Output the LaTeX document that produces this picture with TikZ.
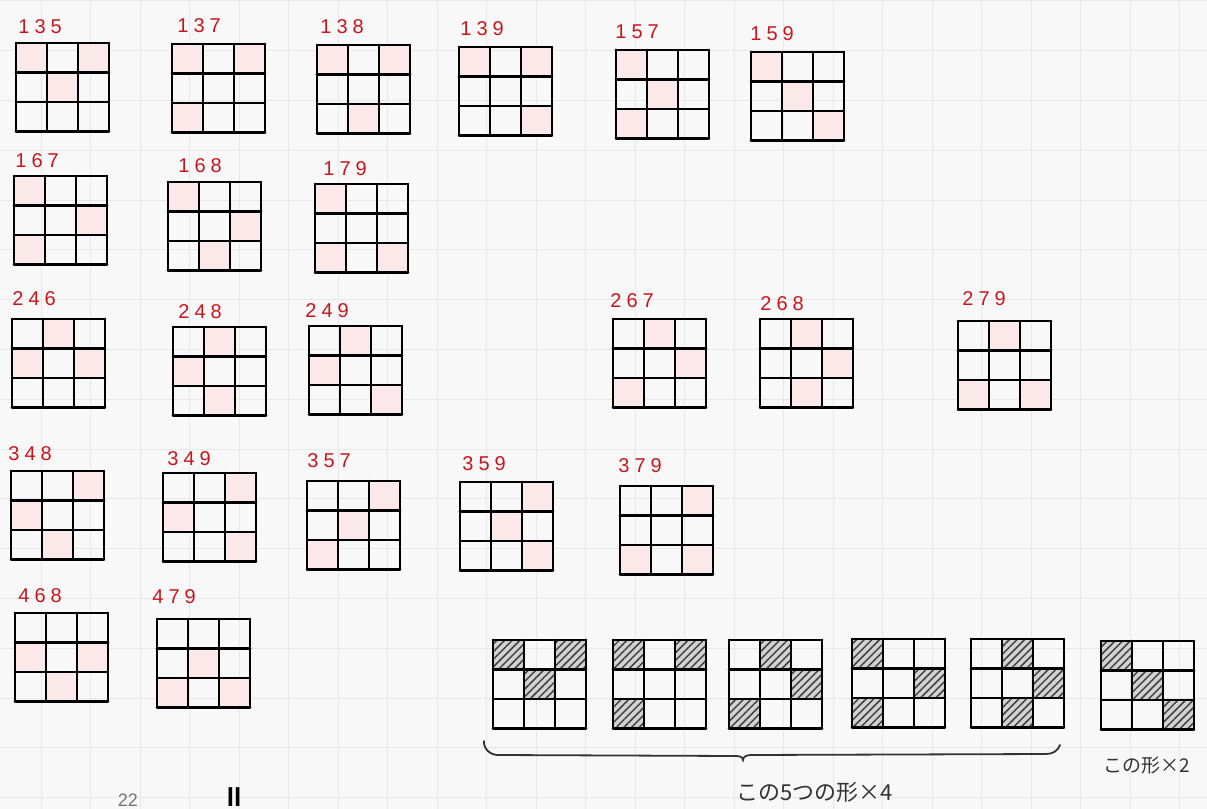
\documentclass[tikz,border=0pt]{standalone}
\usepackage{fontspec}
\setmainfont{Liberation Sans}
\newfontfamily\jpfont{Noto Sans CJK JP}
\usetikzlibrary{patterns.meta}
\definecolor{paperbg}{HTML}{F8F8F8}
\definecolor{paperline}{HTML}{E8E8E8}
\definecolor{markred}{HTML}{C8161E}
\definecolor{cellpink}{HTML}{FBE8E8}
\tikzset{
  gridline/.style ={line width=1.3pt,line cap=round,line join=round},
  pinkcell/.style ={fill=cellpink},
  hatchcell/.style={preaction={fill=gray!35},pattern={Lines[angle=45,distance=2.7pt,line width=0.75pt]},pattern color=black!75},
  tag/.style      ={anchor=base west,text=markred,inner sep=0pt,font=\addfontfeature{LetterSpace=25}\fontsize{10}{12}\selectfont},
  note/.style     ={text=black!80,inner sep=0pt,font=\jpfont\fontsize{11}{13}\selectfont},
  paper/.style    ={draw=paperline,line width=0.5pt},
  brace/.style    ={line width=0.9pt,draw=black!80,line cap=round}
}
\newcommand{\board}[4]{%
  \coordinate (#1) at #2;
  \begin{scope}[shift={(#1)}]
    \foreach \c in {#3}{
      \pgfmathtruncatemacro{\bcol}{mod(\c-1,3)}
      \pgfmathtruncatemacro{\brow}{div(\c-1,3)}
      \fill[#4] (\bcol*31,\brow*29.4) rectangle ++(31,29.4);
    }
    \foreach \i in {0,...,3}{
      \draw[gridline] (\i*31,0) -- (\i*31,88.2);
      \draw[gridline] (0,\i*29.4) -- (93,\i*29.4);
    }
  \end{scope}}

\begin{document}
\begin{tikzpicture}[x=0.5pt,y=-0.5pt]
    \clip (0,0) rectangle (1207,809);
    \fill[paperbg] (0,0) rectangle (1207,809);
    \foreach \k in {0,...,24}
      \draw[paper] (-8.2+49.5*\k,0) -- (-8.2+49.5*\k,809);
    \foreach \k in {0,...,16}
      \draw[paper] (0,0.9+49.8*\k) -- (1207,0.9+49.8*\k);

    \board{b135}{(16,43)}{1,3,5}{pinkcell}
    \board{b137}{(172,44)}{1,3,7}{pinkcell}
    \board{b138}{(317,45)}{1,3,8}{pinkcell}
    \board{b139}{(459,47)}{1,3,9}{pinkcell}
    \board{b157}{(616,50)}{1,5,7}{pinkcell}
    \board{b159}{(751,52)}{1,5,9}{pinkcell}
    \board{b167}{(14,176)}{1,6,7}{pinkcell}
    \board{b168}{(168,182)}{1,6,8}{pinkcell}
    \board{b179}{(315,184)}{1,7,9}{pinkcell}
    \board{b246}{(12,319)}{2,4,6}{pinkcell}
    \board{b248}{(173,327)}{2,4,8}{pinkcell}
    \board{b249}{(309,326)}{2,4,9}{pinkcell}
    \board{b267}{(613,319)}{2,6,7}{pinkcell}
    \board{b268}{(760,319)}{2,6,8}{pinkcell}
    \board{b279}{(958,321)}{2,7,9}{pinkcell}
    \board{b348}{(11,471)}{3,4,8}{pinkcell}
    \board{b349}{(163,473)}{3,4,9}{pinkcell}
    \board{b357}{(307,481)}{3,5,7}{pinkcell}
    \board{b359}{(460,482)}{3,5,9}{pinkcell}
    \board{b379}{(620,486)}{3,7,9}{pinkcell}
    \board{b468}{(15,613)}{4,6,8}{pinkcell}
    \board{b479}{(157,619)}{5,7,9}{pinkcell}

    \board{h1}{(493,640)}{1,3,5}{hatchcell}
    \board{h2}{(613,640)}{1,3,7}{hatchcell}
    \board{h3}{(729,640)}{2,6,7}{hatchcell}
    \board{h4}{(852,639)}{1,6,7}{hatchcell}
    \board{h5}{(971,639)}{2,6,8}{hatchcell}
    \board{h6}{(1101,641)}{1,5,9}{hatchcell}

    \node[tag] (l135) at (18,33)   {135};
    \node[tag] (l137) at (177,32)  {137};
    \node[tag] (l138) at (320,33)  {138};
    \node[tag] (l139) at (460,35)  {139};
    \node[tag] (l157) at (615,38)  {157};
    \node[tag] (l159) at (750,40)  {159};
    \node[tag] (l167) at (15,167)  {167};
    \node[tag] (l168) at (178,172) {168};
    \node[tag] (l179) at (323,175) {179};
    \node[tag] (l246) at (12,305)  {246};
    \node[tag] (l248) at (178,318) {248};
    \node[tag] (l249) at (305,317) {249};
    \node[tag] (l267) at (610,307) {267};
    \node[tag] (l268) at (760,310) {268};
    \node[tag] (l279) at (962,305) {279};
    \node[tag] (l348) at (8,460)   {348};
    \node[tag] (l349) at (167,465) {349};
    \node[tag] (l357) at (307,467) {357};
    \node[tag] (l359) at (462,470) {359};
    \node[tag] (l379) at (618,472) {379};
    \node[tag] (l468) at (18,602)  {468};
    \node[tag] (l479) at (152,603) {479};

    \draw[brace] (484,741) to[out=-95,in=180] (498,755) -- (735,756)
      to[out=0,in=90] (743,760) to[out=90,in=180] (751,755) -- (1046,754)
      to[out=0,in=-110] (1060,745);
    \node[note,anchor=west] (five) at (736,792) {この5つの形×4};
    \node[note,anchor=west,font=\jpfont\fontsize{9.5}{11}\selectfont] (two) at (1103,765) {この形×2};

    \node[anchor=base,text=black!55,inner sep=0pt,font=\fontsize{9}{10}\selectfont] (m22) at (128,806) {22};
    \node[anchor=base,inner sep=0pt,font=\bfseries\fontsize{13}{14}\selectfont] (mll) at (234,806) {ll};
  \end{tikzpicture}
\end{document}
